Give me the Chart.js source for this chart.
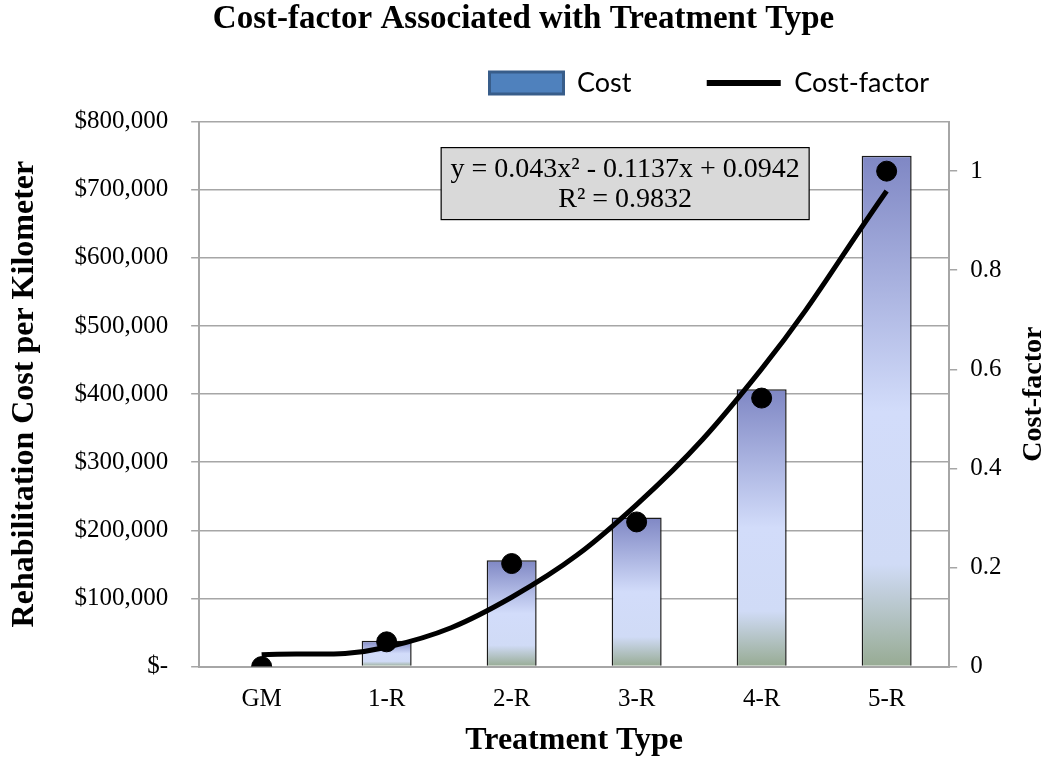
<!DOCTYPE html>
<html>
<head>
  <meta charset="utf-8">
  <title>Cost-factor Associated with Treatment Type</title>
  <script src="https://cdn.jsdelivr.net/npm/chart.js"></script>
  <style>
    body { margin: 0; background: #fff; }
    #wrap { width: 1047px; height: 760px; }
  </style>
</head>
<body>
  <div id="wrap"><canvas id="costChart" width="1047" height="760"></canvas></div>

  <script>
    // data
    const treatments = ['GM', '1-R', '2-R', '3-R', '4-R', '5-R'];
    const costPerKm = [0, 38000, 156000, 219000, 407000, 750000];
    const costFactor = [0, 0.05, 0.208, 0.292, 0.542, 1.0];
    // polynomial trendline as it shows at each category
    const trendValues = [0.024, 0.039, 0.140, 0.327, 0.601, 0.960];
    const costTicks = [0, 100000, 200000, 300000, 400000, 500000, 600000, 700000, 800000];
    const factorTicks = [0, 0.2, 0.4, 0.6, 0.8, 1];
    const trendText = ['y = 0.043x² - 0.1137x + 0.0942', 'R² = 0.9832'];

    const serif = "'Liberation Serif', 'Times New Roman', serif";
    const axisGrey = '#a6a6a6';

    // gradient of each bar, from its top down to the base
    function barFill(ctx) {
      const chart = ctx.chart;
      if (!chart.chartArea) return '#c5cff3';
      const y = chart.scales.y;
      const top = y.getPixelForValue(ctx.raw);
      const base = y.getPixelForValue(0);
      if (base - top < 2) return '#d2dcfa';
      const g = chart.ctx.createLinearGradient(0, top, 0, base);
      g.addColorStop(0, '#7f87c4');
      g.addColorStop(0.5, '#d2dcfa');
      g.addColorStop(0.8, '#d0dbf6');
      g.addColorStop(1, '#97ab93');
      return g;
    }

    // a bit more room between legend and plot
    const legendGap = {
      id: 'legendGap',
      beforeInit(chart) {
        const fit = chart.legend.fit;
        chart.legend.fit = function () {
          fit.bind(chart.legend)();
          this.height += 15;
        };
      }
    };

    // equation box + right axis title (reads bottom to top, like the original)
    const extras = {
      id: 'extras',
      afterDraw(chart) {
        const c = chart.ctx;
        const area = chart.chartArea;
        c.save();
        // trendline label box
        const bx = area.left + 242, by = area.top + 26, bw = 368, bh = 72;
        c.fillStyle = '#d9d9d9';
        c.fillRect(bx, by, bw, bh);
        c.strokeStyle = '#000';
        c.lineWidth = 1.2;
        c.strokeRect(bx, by, bw, bh);
        c.fillStyle = '#000';
        c.font = '28px ' + serif;
        c.textAlign = 'center';
        c.textBaseline = 'middle';
        c.fillText(trendText[0], bx + bw / 2, by + 22);
        c.fillText(trendText[1], bx + bw / 2, by + 52);

        // right axis title
        const s = chart.scales.y1;
        const t = s.options.title;
        const lh = 28 * 1.2;
        const tx = s.right - t.padding.top - lh / 2;
        const ty = (s.top + s.bottom) / 2;
        c.translate(tx, ty);
        c.rotate(-Math.PI / 2);
        c.font = 'bold 28px ' + serif;
        c.fillText('Cost-factor', 0, 0);
        c.restore();
      }
    };

    new Chart(document.getElementById('costChart'), {
      data: {
        labels: treatments,
        datasets: [
          {
            type: 'bar',
            label: 'Cost',
            data: costPerKm,
            yAxisID: 'y',
            backgroundColor: barFill,
            borderColor: '#1a1a1a',
            borderWidth: 1.5,
            barPercentage: 0.4,
            categoryPercentage: 1,
            order: 3
          },
          {
            type: 'line',
            label: 'Trend',
            data: trendValues,
            yAxisID: 'y1',
            borderColor: '#000',
            borderWidth: 5,
            pointRadius: 0,
            tension: 0.4,
            fill: false,
            order: 2
          },
          {
            type: 'line',
            label: 'Cost-factor',
            data: costFactor,
            yAxisID: 'y1',
            showLine: false,
            pointRadius: 10,
            pointBackgroundColor: '#000',
            pointBorderColor: '#000',
            order: 1
          }
        ]
      },
      options: {
        responsive: false,
        animation: false,
        layout: { padding: 0 },
        plugins: {
          tooltip: { enabled: false },
          title: {
            display: true,
            text: 'Cost-factor Associated with Treatment Type',
            color: '#000',
            font: { family: serif, size: 33, weight: 'bold' },
            padding: { top: 0, bottom: 10 }
          },
          legend: {
            position: 'top',
            align: 'end',
            fullSize: false,
            labels: {
              usePointStyle: true,
              pointStyleWidth: 74,
              boxHeight: 22,
              padding: 20,
              color: '#000',
              font: { family: 'Lato, sans-serif', size: 27 },
              generateLabels: () => [
                { text: 'Cost        ', fillStyle: '#4f81bd', strokeStyle: '#385d8a', lineWidth: 3, pointStyle: 'rect', datasetIndex: 0, hidden: false, fontColor: '#000' },
                { text: 'Cost-factor', fillStyle: '#000', strokeStyle: '#000', lineWidth: 6, pointStyle: 'line', datasetIndex: 2, hidden: false, fontColor: '#000' }
              ]
            }
          }
        },
        scales: {
          x: {
            grid: { display: false, drawTicks: false },
            border: { display: true, color: axisGrey, width: 2 },
            ticks: { color: '#000', font: { family: serif, size: 25 }, padding: 18 },
            title: {
              display: true,
              text: 'Treatment Type',
              color: '#000',
              font: { family: serif, size: 32, weight: 'bold' },
              padding: { top: -11, bottom: 0 }
            }
          },
          y: {
            position: 'left',
            min: 0,
            max: 800000,
            afterBuildTicks: s => { s.ticks = costTicks.map(v => ({ value: v })); },
            grid: { color: axisGrey, lineWidth: 1.5, tickLength: 8 },
            border: { color: axisGrey, width: 2 },
            ticks: {
              color: '#000',
              font: { family: serif, size: 25 },
              padding: 23,
              callback: v => v === 0 ? '$-' : '$' + v.toLocaleString('en-US')
            },
            title: {
              display: true,
              text: 'Rehabilitation Cost per Kilometer',
              color: '#000',
              font: { family: serif, size: 32, weight: 'bold' },
              padding: { top: 6, bottom: 7 }
            }
          },
          y1: {
            position: 'right',
            min: 0,
            max: 1.1,
            afterBuildTicks: s => { s.ticks = factorTicks.map(v => ({ value: v })); },
            grid: { drawOnChartArea: false, color: axisGrey, lineWidth: 1.5, tickLength: 8 },
            border: { color: axisGrey, width: 2 },
            ticks: {
              color: '#000',
              font: { family: serif, size: 25 },
              padding: 13,
              callback: v => String(Math.round(v * 10) / 10)
            },
            title: {
              display: true,
              text: 'Cost-factor',
              color: 'rgba(0,0,0,0)',
              font: { family: serif, size: 28, weight: 'bold' },
              padding: { top: -4, bottom: 3 }
            }
          }
        }
      },
      plugins: [legendGap, extras]
    });
  </script>
</body>
</html>
